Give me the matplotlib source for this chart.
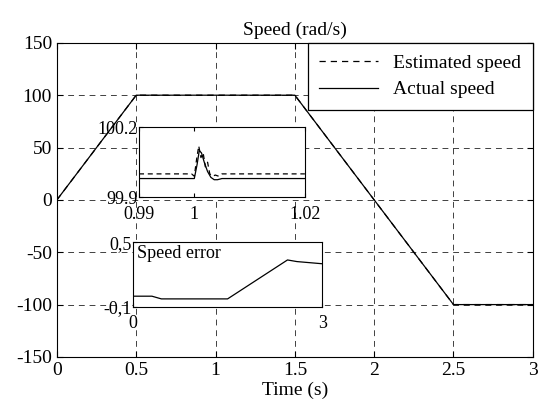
import matplotlib
matplotlib.use("Agg")
import matplotlib.pyplot as plt
import numpy as np

plt.rcParams['font.family'] = ['Liberation Serif', 'DejaVu Serif']
plt.rcParams['font.size'] = 14
plt.rcParams['axes.unicode_minus'] = False

# main speed profile (rad/s)
t_main = [0, 0.5, 1.5, 2.5, 3]
w_actual = [0, 100, 100, -100, -100]
w_est = [0, 100, 100, -100, -100]

# zoom around t = 1 s
t_zoom = [0.99, 0.9995, 1.0, 1.0005, 1.0009, 1.0013, 1.0018, 1.0024, 1.003, 1.0036, 1.0042, 1.005, 1.006, 1.02]
act_zoom = [99.98, 99.98, 99.98, 100.04, 100.10, 100.09, 100.05, 100.01, 99.985, 99.975, 99.975, 99.98, 99.98, 99.98]
t_zoom_e = [0.99, 0.9995, 1.0, 1.0004, 1.0008, 1.0012, 1.0016, 1.002, 1.0024, 1.0028, 1.0033, 1.0038, 1.0044, 1.005, 1.02]
est_zoom = [100.0, 100.0, 99.99, 100.06, 100.12, 100.07, 100.09, 100.03, 100.05, 100.0, 99.99, 99.995, 99.99, 100.0, 100.0]

# speed error
t_err = [0, 0.3, 0.45, 0.8, 1.5, 2.45, 2.6, 3]
err = [0.0, 0.0, -0.025, -0.025, -0.025, 0.335, 0.32, 0.30]

fig = plt.figure(figsize=(5.42, 4.16), dpi=100)
ax = fig.add_axes([0.105, 0.142, 0.878, 0.755])
ax.plot(t_main, w_est, 'k--', lw=0.9, label='Estimated speed', dashes=(5, 4))
ax.plot(t_main, w_actual, 'k-', lw=0.9, label='Actual speed')
ax.set_xlim(0, 3)
ax.set_ylim(-150, 150)
ax.set_xticks([0, 0.5, 1, 1.5, 2, 2.5, 3])
ax.set_xticklabels(['0', '0.5', '1', '1.5', '2', '2.5', '3'])
ax.set_yticks([-150, -100, -50, 0, 50, 100, 150])
ax.grid(True, color='k', linestyle=(0, (6, 5)), lw=0.7, alpha=0.75)
ax.tick_params(direction='in', length=4, top=True, right=True)
ax.set_title('Speed (rad/s)', fontsize=14, pad=6)
ax.set_xlabel('Time (s)', fontsize=14, labelpad=2)
leg = ax.legend(loc='upper right', fancybox=False, edgecolor='k', framealpha=1,
                borderaxespad=0, handlelength=3.0, fontsize=14, labelspacing=0.45,
                borderpad=0.6)
leg.get_frame().set_linewidth(0.9)

# inset 1: zoom near t = 1
ax1 = fig.add_axes([0.2565, 0.526, 0.306, 0.168])
ax1.plot(t_zoom_e, est_zoom, 'k--', lw=0.9, dashes=(4, 3))
ax1.plot(t_zoom, act_zoom, 'k-', lw=0.9)
ax1.set_xlim(0.99, 1.02)
ax1.set_ylim(99.9, 100.2)
ax1.set_xticks([0.99, 1, 1.02])
ax1.set_xticklabels(['0.99', '1', '1.02'])
ax1.set_yticks([99.9, 100.2])
ax1.set_yticklabels(['99.9', '100.2'])
ax1.tick_params(direction='in', length=3, labelsize=13, pad=1, top=True)
ax1.tick_params(axis='x', pad=6)

# inset 2: speed error
ax2 = fig.add_axes([0.2454, 0.262, 0.349, 0.156])
ax2.plot(t_err, err, 'k-', lw=0.9)
ax2.set_xlim(0, 3)
ax2.set_ylim(-0.1, 0.5)
ax2.set_xticks([0, 3])
ax2.set_xticklabels(['0', '3'])
ax2.set_yticks([-0.1, 0.5])
ax2.set_yticklabels(['-0,1', '0,5'])
ax2.tick_params(direction='in', length=3, labelsize=13, pad=1)
ax2.tick_params(axis='x', pad=6)
ax2.text(0.02, 0.95, 'Speed error', transform=ax2.transAxes, va='top', ha='left', fontsize=13)

fig.savefig('out.png', dpi=100)
